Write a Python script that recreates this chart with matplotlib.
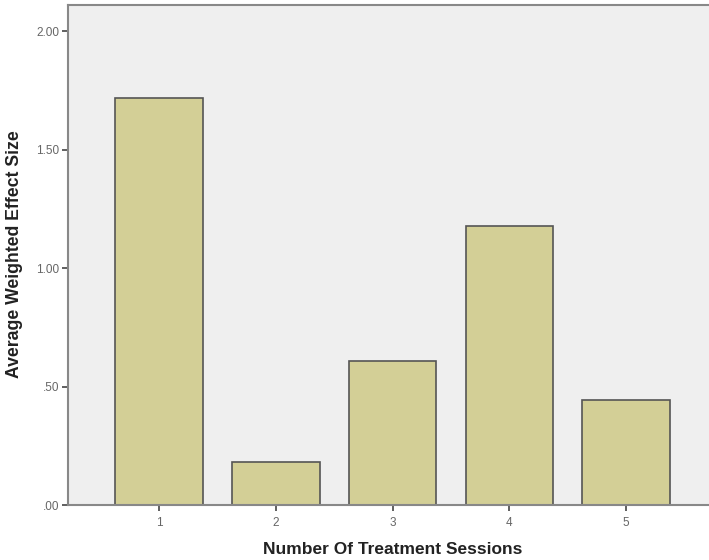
import matplotlib
matplotlib.use("Agg")
import matplotlib.pyplot as plt

plt.rcParams['font.family'] = ['Liberation Sans', 'DejaVu Sans']

categories = ["1", "2", "3", "4", "5"]
values = [1.717, 0.181, 0.608, 1.177, 0.443]
yticks = [0.0, 0.5, 1.0, 1.5, 2.0]
ytick_labels = [".00", ".50", "1.00", "1.50", "2.00"]

fig = plt.figure(figsize=(7.09, 5.6), dpi=100)
ax = fig.add_axes([68/709, 1-505/560, 1-68/709, (505-5)/560])
ax.set_facecolor("#EFEFEF")
x = list(range(1, len(categories)+1))
ax.bar(x, values, width=0.75, color="#D3CF96", edgecolor="#555555", linewidth=1.2, zorder=2)
ax.set_xlim(0.222, 5.709)
ax.set_ylim(0, 2.11)
ax.set_xticks(x)
ax.set_xticklabels(categories)
ax.set_yticks(yticks)
ax.set_yticklabels(ytick_labels)
ax.tick_params(axis="both", labelsize=8.5, colors="#444444", length=4, width=1.2, direction="out")
ax.tick_params(axis="x", pad=5)
ax.tick_params(axis="y", pad=2)
for lab in ax.get_xticklabels() + ax.get_yticklabels():
    lab.set_color("#666666")
for s in ["left", "bottom", "top"]:
    ax.spines[s].set_color("#888888")
    ax.spines[s].set_linewidth(1.5)
ax.spines["right"].set_visible(False)
ax.set_xlabel("Number Of Treatment Sessions", fontsize=12.5, fontweight="bold", color="#222222")
ax.set_ylabel("Average Weighted Effect Size", fontsize=12.7, fontweight="bold", color="#222222")
ax.xaxis.label.set_va("center")
ax.yaxis.label.set_va("center")
ax.xaxis.set_label_coords((393-68)/641, (505-549)/500)
ax.yaxis.set_label_coords((15-68)/641, (505-254)/500)
fig.savefig("out.png", dpi=100)
